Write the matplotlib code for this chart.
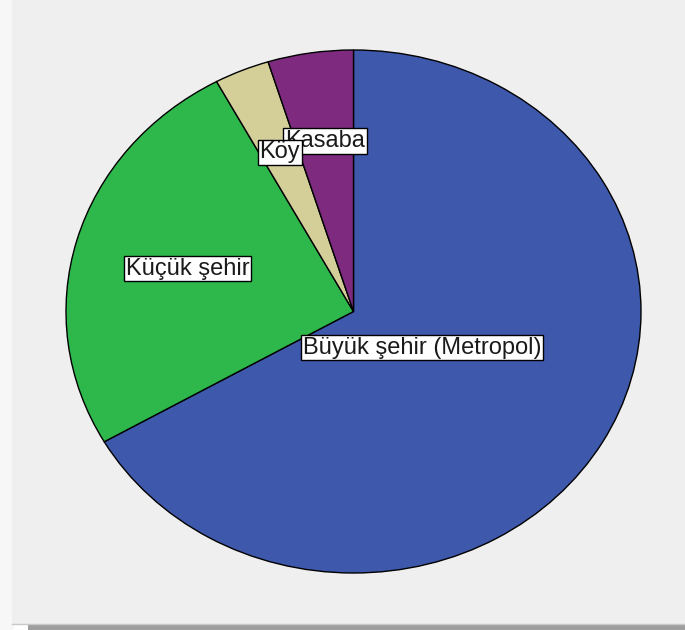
import matplotlib
matplotlib.use("Agg")
import matplotlib.pyplot as plt
from matplotlib.patches import Rectangle
import numpy as np

# Yerleşim yeri dağılımı (percent)
categories = ["Büyük şehir (Metropol)", "Küçük şehir", "Köy", "Kasaba"]
shares = [66.7, 25.4, 3.1, 4.8]
colors = ["#3E58AC", "#2EB84B", "#D4CF99", "#7D2A7F"]
label_r = [0.275, 0.6, 0.66, 0.66]
label_z = [5, 5, 7, 6]

W, H = 685, 630
fig = plt.figure(figsize=(W / 100, H / 100), dpi=100)
fig.patch.set_facecolor("white")

# panel background with a soft shadow like the SPSS viewer
bg = fig.add_axes([0, 0, 1, 1])
bg.set_xlim(0, W)
bg.set_ylim(H, 0)
bg.axis("off")
bg.add_patch(Rectangle((0, 0), 14, H, color="#F7F7F7", lw=0))
bg.add_patch(Rectangle((28, 624), W, 6, color="#9E9E9E", lw=0))
bg.add_patch(Rectangle((12, 0), W, 624, color="#EFEFEF", lw=0))
bg.plot([12, W], [623.5, 623.5], color="#C9C9C9", lw=1)

# pie axes spans the ellipse bounding box (pixels 66..641 x 50..573)
left, right, top, bottom = 66, 641, 50, 573
ax = fig.add_axes([left / W, 1 - bottom / H, (right - left) / W, (bottom - top) / H])
wedges, _ = ax.pie(shares, colors=colors, startangle=90, counterclock=False,
                   radius=1, wedgeprops=dict(edgecolor="black", linewidth=1.0))
ax.set_aspect("auto")
ax.set_xlim(-1, 1)
ax.set_ylim(-1, 1)
ax.axis("off")

# labels sit inside the slices; Köy overlaps Kasaba like in the original
for w, name, r, z in zip(wedges, categories, label_r, label_z):
    mid = np.deg2rad((w.theta1 + w.theta2) / 2)
    ax.text(r * np.cos(mid), r * np.sin(mid), name, ha="center", va="center",
            fontsize=17, family="Liberation Sans", color="#1A1A1A", zorder=z,
            bbox=dict(boxstyle="square,pad=0.07", facecolor="white",
                      edgecolor="black", linewidth=1.0))

fig.savefig("out.png", dpi=100)
